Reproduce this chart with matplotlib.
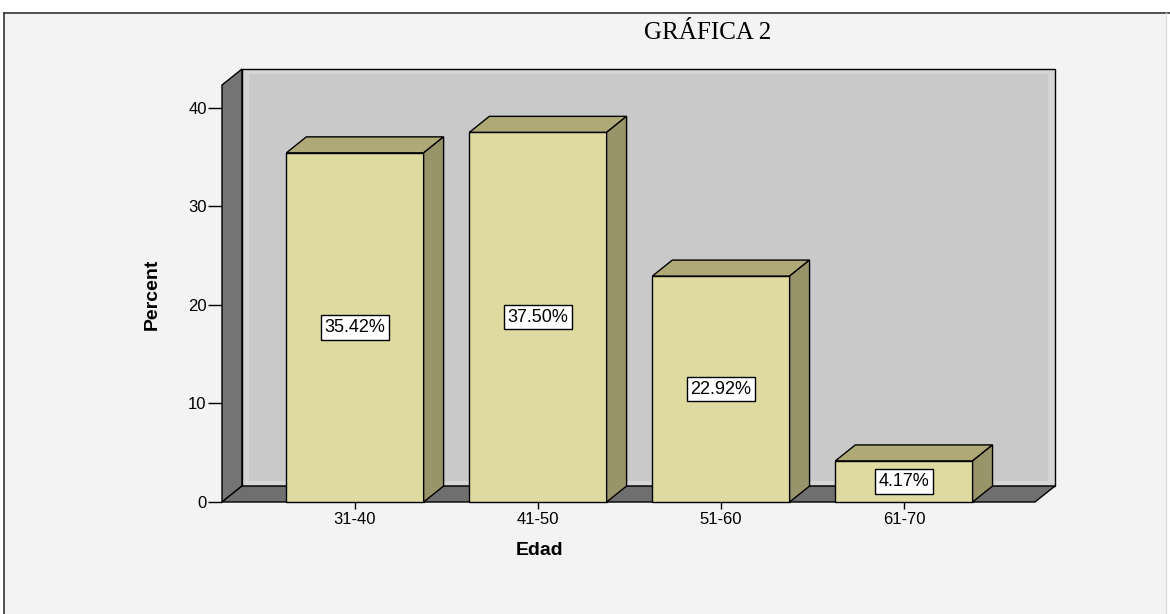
import matplotlib.pyplot as plt
from matplotlib.patches import Polygon, Rectangle

# datos
edades = ["31-40", "41-50", "51-60", "61-70"]
porcentajes = [35.42, 37.50, 22.92, 4.17]
etiquetas = ["35.42%", "37.50%", "22.92%", "4.17%"]
yticks = [0, 10, 20, 30, 40]

W, H = 1170, 614
fig = plt.figure(figsize=(W / 100, H / 100), dpi=100)
fig.patch.set_facecolor("white")

# marco exterior
fig.patches.append(Rectangle((4 / W, 0), 1162 / W, 1 - 13 / H, transform=fig.transFigure,
                             fc="#f3f3f3", ec="none", zorder=-5))
fig.lines.append(plt.Line2D([4 / W, 4 / W], [0, 1 - 13 / H], transform=fig.transFigure, color="#333333", lw=1.2))
fig.lines.append(plt.Line2D([4 / W, 1], [1 - 13 / H, 1 - 13 / H], transform=fig.transFigure, color="#333333", lw=1.2))
fig.lines.append(plt.Line2D([1166 / W, 1166 / W], [0, 1 - 13 / H], transform=fig.transFigure, color="#dddddd", lw=1))

ax = fig.add_axes([222 / W, 112 / H, 813 / W, 417 / H])
ax.set_facecolor("none")
ax.set_zorder(2)

x0, x1 = -0.727, 3.716
ytop = 42.3
dx, dy = 0.109, 1.62  # profundidad 3d
ancho = 0.75

ax.set_xlim(x0, x1)
ax.set_ylim(0, ytop)

def poly(pts, fc, z, ec="black", lw=1.0):
    ax.add_patch(Polygon(pts, closed=True, fc=fc, ec=ec, lw=lw, zorder=z, clip_on=False))

# pared del fondo, pared izquierda y piso
poly([(x0 + dx, dy), (x1 + dx, dy), (x1 + dx, ytop + dy), (x0 + dx, ytop + dy)], "#d6d6d6", 1)
poly([(x0 + dx + 0.04, dy + 0.5), (x1 + dx - 0.04, dy + 0.5), (x1 + dx - 0.04, ytop + dy - 0.5),
      (x0 + dx + 0.04, ytop + dy - 0.5)], "#c9c9c9", 1.1, ec="none")
poly([(x0, 0), (x0 + dx, dy), (x0 + dx, ytop + dy), (x0, ytop)], "#747474", 2)
poly([(x0, 0), (x1, 0), (x1 + dx, dy), (x0 + dx, dy)], "#6f6f6f", 2)

for i, v in enumerate(porcentajes):
    a, b = i - ancho / 2, i + ancho / 2
    poly([(a, 0), (b, 0), (b, v), (a, v)], "#dedaa0", 3)
    poly([(a, v), (b, v), (b + dx, v + dy), (a + dx, v + dy)], "#aea977", 3)
    poly([(b, 0), (b + dx, dy), (b + dx, v + dy), (b, v)], "#99946a", 3)
    ax.text(i, v / 2, etiquetas[i], ha="center", va="center", fontsize=13,
            family="Liberation Sans", zorder=5,
            bbox=dict(boxstyle="square,pad=0.2", fc="white", ec="black", lw=1.0))

for s in ax.spines.values():
    s.set_visible(False)

ax.set_yticks(yticks)
ax.set_yticklabels([str(t) for t in yticks], family="Liberation Sans", fontsize=12)
ax.set_xticks(range(len(edades)))
ax.set_xticklabels(edades, family="Liberation Sans", fontsize=12)
ax.tick_params(axis="y", length=10, width=1, pad=1)
ax.tick_params(axis="x", length=5, width=1, pad=2)

ax.set_xlabel("Edad", family="Liberation Sans", fontsize=14, fontweight="bold")
ax.xaxis.set_label_coords(0.391, -0.095)
ax.set_ylabel("Percent", family="Liberation Sans", fontsize=14, fontweight="bold")
ax.yaxis.set_label_coords(-0.075, 0.499)

fig.text(708 / W, 1 - 33 / H, "GRÁFICA 2", ha="center", va="center",
         family="Liberation Serif", fontsize=18)

fig.savefig("out.png", dpi=100)
